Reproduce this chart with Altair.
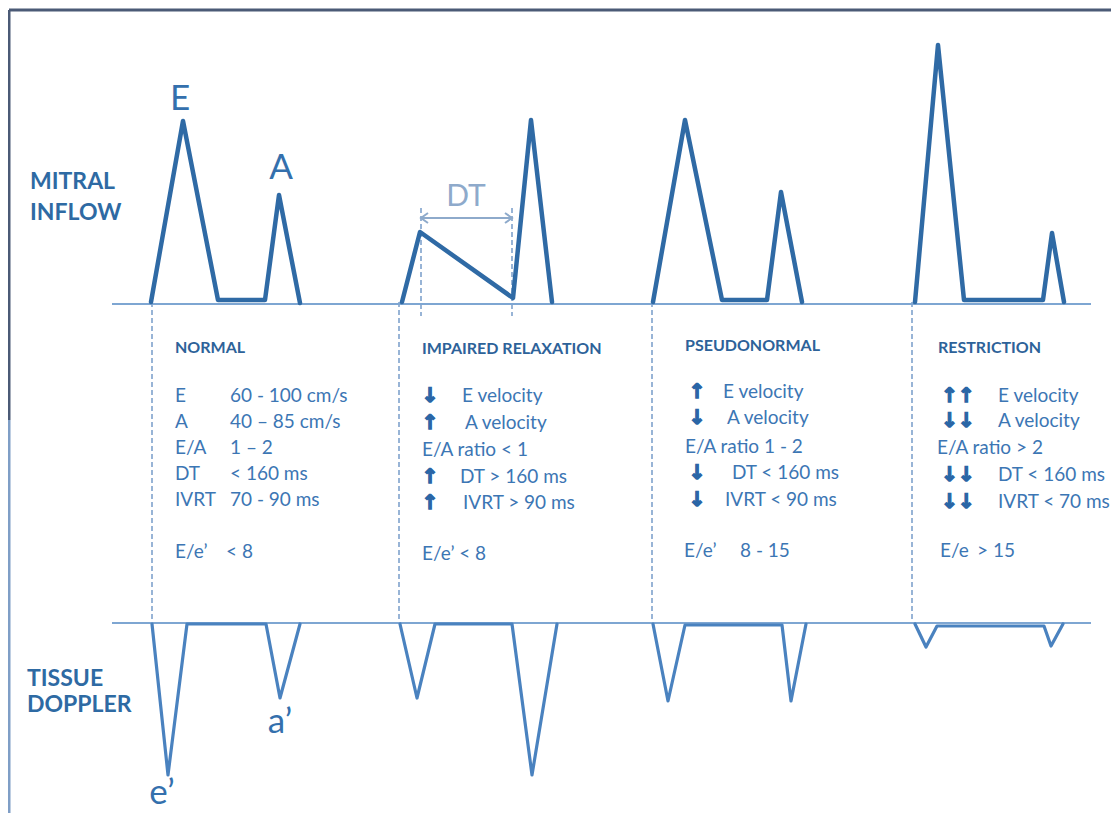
import altair as alt
import pandas as pd

# ---------------- data ----------------
# Mitral inflow waveforms (x = time position, y = vertical position, picture units)
mitral_normal_x = [151, 183, 218, 265, 279, 300]
mitral_normal_y = [302, 121, 300, 300, 195, 303]
mitral_impaired_x = [402, 420, 513, 531, 552]
mitral_impaired_y = [302, 232, 298, 120, 302]
mitral_pseudo_x = [653, 685, 722, 767, 781, 802]
mitral_pseudo_y = [302, 120, 300, 300, 192, 302]
mitral_restrict_x = [915, 938, 964, 1043, 1052, 1064]
mitral_restrict_y = [302, 45, 300, 300, 233, 302]

# Tissue Doppler waveforms
tissue_normal_x = [152, 168, 187, 266, 280, 300]
tissue_normal_y = [624, 775, 624, 624, 698, 624]
tissue_impaired_x = [400, 417, 435, 512, 532, 557]
tissue_impaired_y = [624, 698, 624, 624, 775, 624]
tissue_pseudo_x = [653, 668, 685, 782, 791, 806]
tissue_pseudo_y = [624, 701, 625, 625, 701, 624]
tissue_restrict_x = [915, 926, 937, 1044, 1051, 1063]
tissue_restrict_y = [624, 647, 626, 626, 646, 624]

# Baselines
baseline_x1 = [112, 112]
baseline_x2 = [1091, 1091]
baseline_y = [304, 623]

# Dashed separators
sep_x = [152, 399, 652, 912]
sep_y1 = [302, 302, 302, 302]
sep_y2 = [624, 624, 624, 624]
dt_mark_x = [421, 512]
dt_mark_y1 = [208, 208]
dt_mark_y2 = [316, 316]

# DT arrow
dt_arrow_x = [421, 512]
dt_arrow_y = [218, 218]
dt_head_x = [428, 421, 428, 505, 512, 505]
dt_head_y = [213, 218, 223, 213, 218, 223]
dt_head_id = ["l", "l", "l", "r", "r", "r"]

# Panel headers
headers = ["NORMAL", "IMPAIRED RELAXATION", "PSEUDONORMAL", "RESTRICTION"]
header_x = [175, 422, 685, 938]
header_y = [348, 349, 346, 348]

# Body text
body_text = [
    "E", "60 - 100 cm/s", "A", "40 \u2013 85 cm/s", "E/A", "1 \u2013 2",
    "DT", "< 160 ms", "IVRT", "70 - 90 ms", "E/e\u2019", "< 8",
    "E velocity", "A velocity", "E/A ratio  < 1", "DT  > 160 ms", "IVRT > 90 ms", "E/e\u2019 < 8",
    "E velocity", "A velocity", "E/A ratio  1 - 2", "DT < 160 ms", "IVRT < 90 ms", "E/e\u2019", "8 - 15",
    "E velocity", "A velocity", "E/A ratio  > 2", "DT  < 160 ms", "IVRT < 70 ms", "E/e", "> 15",
]
body_x = [
    175, 230, 175, 230, 175, 230, 175, 230, 175, 230, 175, 226,
    462, 465, 422, 460, 463, 422,
    723, 727, 685, 732, 725, 684, 740,
    998, 998, 937, 998, 998, 940, 977,
]
body_y = [
    396, 396, 422, 422, 448, 448, 474, 474, 500, 500, 552, 552,
    396, 423, 450, 477, 503, 554,
    392, 418, 447, 473, 500, 551, 551,
    396, 421, 448, 475, 502, 551, 551,
]

# Arrows
arrow_text = ["\u2193", "\u2191", "\u2191", "\u2191",
              "\u2191", "\u2193", "\u2193", "\u2193",
              "\u2191\u2191", "\u2193\u2193", "\u2193\u2193", "\u2193\u2193"]
arrow_x = [430, 430, 430, 430, 697, 697, 697, 697, 958, 958, 958, 958]
arrow_y = [396, 423, 477, 503, 392, 418, 473, 500, 396, 421, 475, 502]

# Side labels
side_text = ["MITRAL", "INFLOW", "TISSUE", "DOPPLER"]
side_x = [30, 30, 27, 27]
side_y = [182, 213, 679, 705]

# Wave labels
wave_label_text = ["E", "A", "e\u2019", "a\u2019"]
wave_label_x = [180, 281, 162, 280]
wave_label_y = [99, 168, 793, 722]

# Frame
frame_h_x1 = [9]
frame_h_x2 = [1111]
frame_h_y = [10]
frame_v_x = [9, 9]
frame_v_y1 = [10, 420]
frame_v_y2 = [420, 813]
frame_v_part = ["left_top", "left_bottom"]

# ---------------- build ----------------
W, H = 1103, 805
XS = alt.Scale(domain=[8, 8 + W], nice=False, zero=False)
YS = alt.Scale(domain=[8 + H, 8], nice=False, zero=False)


def wave_df(prefix, pairs):
    rows = []
    for name, (xs, ys) in pairs.items():
        for i, (x, y) in enumerate(zip(xs, ys)):
            rows.append({"wave": f"{prefix}_{name}", "i": i, "x": x, "y": y})
    return pd.DataFrame(rows)


mitral_df = wave_df("m", {
    "normal": (mitral_normal_x, mitral_normal_y),
    "impaired": (mitral_impaired_x, mitral_impaired_y),
    "pseudo": (mitral_pseudo_x, mitral_pseudo_y),
    "restrict": (mitral_restrict_x, mitral_restrict_y),
})
tissue_df = wave_df("t", {
    "normal": (tissue_normal_x, tissue_normal_y),
    "impaired": (tissue_impaired_x, tissue_impaired_y),
    "pseudo": (tissue_pseudo_x, tissue_pseudo_y),
    "restrict": (tissue_restrict_x, tissue_restrict_y),
})

X = alt.X("x:Q", scale=XS, axis=None)
Y = alt.Y("y:Q", scale=YS, axis=None)

frame_top = alt.Chart(pd.DataFrame({"x": frame_h_x1, "x2": frame_h_x2, "y": frame_h_y})).mark_rule(
    strokeWidth=3, color="#4b5a76").encode(x=X, x2="x2:Q", y=Y)
frame_side = alt.Chart(pd.DataFrame({"x": frame_v_x, "y": frame_v_y1, "y2": frame_v_y2,
                                     "part": frame_v_part})).mark_rule(strokeWidth=3).encode(
    x=X, y=Y, y2="y2:Q",
    color=alt.Color("part:N", legend=None,
                    scale=alt.Scale(domain=frame_v_part,
                                    range=["#4b5a76", "#7f9ec6"])),
)

base_df = pd.DataFrame({"x": baseline_x1, "x2": baseline_x2, "y": baseline_y})
baselines = alt.Chart(base_df).mark_rule(color="#7ea6d2", strokeWidth=2).encode(
    x=X, x2="x2:Q", y=Y)

sep_df = pd.DataFrame({"x": sep_x + dt_mark_x, "y": sep_y1 + dt_mark_y1, "y2": sep_y2 + dt_mark_y2})
seps = alt.Chart(sep_df).mark_rule(color="#7fa2cc", strokeWidth=1.6, strokeDash=[5, 3]).encode(
    x=X, y=Y, y2="y2:Q")

dt_df = pd.DataFrame({"x": [dt_arrow_x[0]], "x2": [dt_arrow_x[1]], "y": [dt_arrow_y[0]]})
dt_line = alt.Chart(dt_df).mark_rule(color="#8eaacb", strokeWidth=2).encode(x=X, x2="x2:Q", y=Y)
dt_heads_df = pd.DataFrame({"x": dt_head_x, "y": dt_head_y, "id": dt_head_id,
                            "i": list(range(len(dt_head_x)))})
dt_heads = alt.Chart(dt_heads_df).mark_line(color="#8eaacb", strokeWidth=2).encode(
    x=X, y=Y, detail="id:N", order="i:Q")

mitral = alt.Chart(mitral_df).mark_line(color="#2f6aa5", strokeWidth=4.5, strokeJoin="round",
                                         strokeCap="round").encode(
    x=X, y=Y, detail="wave:N", order="i:Q")
tissue = alt.Chart(tissue_df).mark_line(color="#4a82bf", strokeWidth=3.2, strokeJoin="round",
                                         strokeCap="round").encode(
    x=X, y=Y, detail="wave:N", order="i:Q")

hdr_df = pd.DataFrame({"x": header_x, "y": header_y, "t": headers})
hdr = alt.Chart(hdr_df).mark_text(align="left", baseline="middle", font="Lato", fontWeight="bold",
                                  fontSize=16, color="#2d6299").encode(x=X, y=Y, text="t:N")

body_df = pd.DataFrame({"x": body_x, "y": body_y, "t": body_text})
body = alt.Chart(body_df).mark_text(align="left", baseline="middle", font="Lato",
                                    fontSize=19, color="#3c76b4").encode(x=X, y=Y, text="t:N")

arrow_df = pd.DataFrame({"x": arrow_x, "y": arrow_y, "t": arrow_text})
arrows = alt.Chart(arrow_df).mark_text(align="center", baseline="middle", font="DejaVu Sans",
                                       fontWeight="bold", fontSize=20, color="#2a66a6",
                                       stroke="#2a66a6", strokeWidth=1.4).encode(
    x=X, y=Y, text="t:N")

side_df = pd.DataFrame({"x": side_x, "y": side_y, "t": side_text})
side = alt.Chart(side_df).mark_text(align="left", baseline="middle", font="Lato", fontWeight="bold",
                                    fontSize=23, color="#2e6aa3").encode(x=X, y=Y, text="t:N")

wl_df = pd.DataFrame({"x": wave_label_x, "y": wave_label_y, "t": wave_label_text})
wave_labels = alt.Chart(wl_df).mark_text(align="center", baseline="middle", font="Lato",
                                         fontSize=35, color="#3470ad").encode(x=X, y=Y, text="t:N")

dt_label = alt.Chart(pd.DataFrame({"x": [466], "y": [197], "t": ["DT"]})).mark_text(
    align="center", baseline="middle", font="Lato", fontSize=30, color="#8eaacb").encode(
    x=X, y=Y, text="t:N")

chart = alt.layer(
    frame_top, frame_side, seps, baselines, dt_line, dt_heads, mitral, tissue,
    hdr, body, arrows, side, wave_labels, dt_label,
).properties(
    width=W, height=H, padding=0, background="white",
    autosize=alt.AutoSizeParams(type="none"),
).configure_view(stroke=None)

chart.save("out.html", embed_options={"renderer": "svg", "actions": False})
